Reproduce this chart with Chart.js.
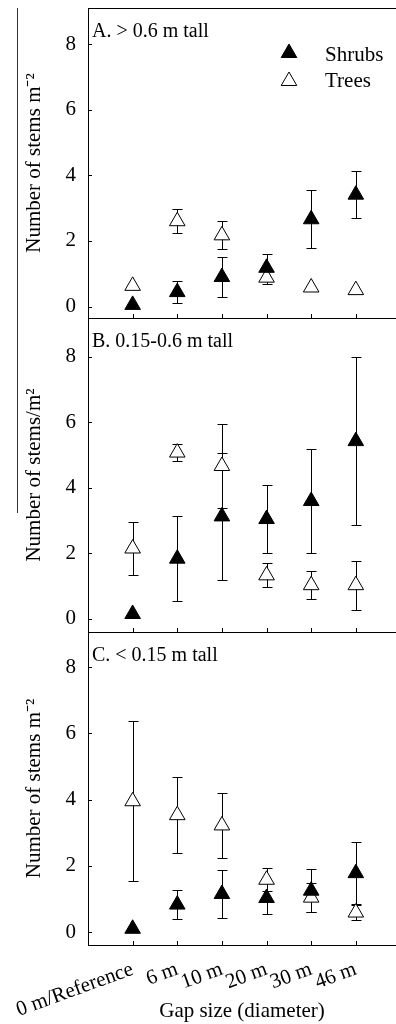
<!DOCTYPE html>
<html>
<head>
<meta charset="utf-8">
<script src="https://cdn.jsdelivr.net/npm/chart.js@4.4.1/dist/chart.umd.min.js"></script>
<style>
    body { margin: 0; background: #fff; }
    #wrap { position: relative; width: 396px; height: 1024px; overflow: hidden; }
    .panel { position: absolute; left: 0; width: 396px; }
    #edgeLine { position: absolute; left: 17px; top: 8px; width: 1px; height: 505px; background: #333; }
</style>
</head>
<body>
<div id="wrap">
    <div id="edgeLine"></div>
    <div class="panel" style="top:0px;height:330px"><canvas id="chartA"></canvas></div>
    <div class="panel" style="top:310px;height:330px"><canvas id="chartB"></canvas></div>
    <div class="panel" style="top:624px;height:400px"><canvas id="chartC"></canvas></div>
</div>
<script>
const categories = ['0 m/Reference', '6 m', '10 m', '20 m', '30 m', '46 m'];
const yTicks = [0, 2, 4, 6, 8];

// A. > 0.6 m tall
const shrubsA    = [0.05, 0.44, 0.90, 1.18, 2.66, 3.41];
const shrubsErrA = [0, 0.34, 0.60, 0.41, 0.88, 0.71];
const treesA     = [0.63, 2.60, 2.17, 0.88, 0.58, 0.50];
const treesErrA  = [0, 0.36, 0.43, 0.20, 0, 0];

// B. 0.15-0.6 m tall
const shrubsB    = [0.15, 1.84, 3.13, 3.05, 3.60, 5.43];
const shrubsErrB = [0, 1.30, 1.95, 1.04, 1.60, 2.57];
const treesB     = [2.15, 5.08, 4.67, 1.33, 1.03, 1.03];
const treesErrB  = [0.80, 0.25, 1.28, 0.37, 0.42, 0.75];

// C. < 0.15 m tall
const shrubsC    = [0.10, 0.83, 1.15, 1.03, 1.25, 1.78];
const shrubsErrC = [0, 0.43, 0.72, 0.48, 0.65, 0.94];
const treesC     = [3.95, 3.53, 3.22, 1.58, 1.04, 0.59];
const treesErrC  = [2.41, 1.14, 0.98, 0.34, 0.44, 0.24];

const serif = "'Liberation Serif', 'Times New Roman', serif";
Chart.defaults.font.family = serif;
Chart.defaults.font.size = 21;
Chart.defaults.color = '#000';

// vertical bars with caps, behind the markers
const errorBars = {
    id: 'errorBars',
    beforeDatasetsDraw(chart) {
        const ctx = chart.ctx;
        const xs = chart.scales.x;
        const ys = chart.scales.y;
        ctx.save();
        ctx.strokeStyle = '#000';
        ctx.lineWidth = 1;
        chart.data.datasets.forEach(ds => {
            ds.data.forEach((p, i) => {
                const e = ds.errors[i];
                if (!e) return;
                const px = Math.round(xs.getPixelForValue(p.x)) + 0.5;
                const top = Math.round(ys.getPixelForValue(p.y + e)) + 0.5;
                const bot = Math.round(ys.getPixelForValue(p.y - e)) + 0.5;
                ctx.beginPath();
                ctx.moveTo(px, top); ctx.lineTo(px, bot);
                ctx.moveTo(px - 5, top); ctx.lineTo(px + 5, top);
                ctx.moveTo(px - 5, bot); ctx.lineTo(px + 5, bot);
                ctx.stroke();
            });
        });
        ctx.restore();
    }
};

// inside tick marks, panel label, legend
const decor = {
    id: 'decor',
    afterDraw(chart, args, opts) {
        const {ctx, chartArea: area, scales} = chart;
        ctx.save();
        ctx.strokeStyle = '#000';
        ctx.lineWidth = 1;
        ctx.beginPath();
        scales.y.ticks.forEach(t => {
            const py = Math.round(scales.y.getPixelForValue(t.value)) + 0.5;
            ctx.moveTo(area.left, py); ctx.lineTo(area.left + 4, py);
        });
        scales.x.ticks.forEach(t => {
            const px = Math.round(scales.x.getPixelForValue(t.value)) + 0.5;
            ctx.moveTo(px, area.bottom); ctx.lineTo(px, area.bottom - 4);
        });
        if (opts.topLine) {
            ctx.moveTo(area.left, area.top + 0.5); ctx.lineTo(area.right, area.top + 0.5);
        }
        ctx.stroke();

        ctx.fillStyle = '#000';
        ctx.font = '20px ' + serif;
        ctx.textBaseline = 'alphabetic';
        ctx.fillText(opts.label, area.left + 4, area.top + 29);

        if (opts.legend) {
            ctx.font = '21px ' + serif;
            const rows = [[chart.data.datasets[0], 53, 61], [chart.data.datasets[1], 81, 87]];
            rows.forEach(([ds, my, ty]) => {
                ctx.fillStyle = ds.backgroundColor;
                ctx.strokeStyle = ds.borderColor;
                ctx.lineWidth = ds.borderWidth;
                Chart.helpers.drawPoint(ctx, {pointStyle: 'triangle', radius: ds.pointRadius, rotation: 0, borderWidth: ds.borderWidth}, 289, my);
                ctx.fillStyle = '#000';
                ctx.fillText(ds.label, 325, ty);
            });
        }
        ctx.restore();
    }
};

function toPoints(values) {
    return values.map((v, i) => ({x: i, y: v}));
}

function makePanel(id, p) {
    return new Chart(document.getElementById(id), {
        type: 'scatter',
        data: {
            datasets: [{
                label: 'Shrubs',
                data: toPoints(p.shrubs),
                errors: p.shrubErr,
                pointStyle: 'triangle',
                pointRadius: 9,
                backgroundColor: '#000',
                borderColor: '#000',
                borderWidth: 1
            }, {
                label: 'Trees',
                data: toPoints(p.trees),
                errors: p.treeErr,
                pointStyle: 'triangle',
                pointRadius: 9,
                backgroundColor: '#fff',
                borderColor: '#000',
                borderWidth: 1
            }]
        },
        options: {
            responsive: true,
            maintainAspectRatio: false,
            animation: false,
            layout: { autoPadding: false, padding: {top: 8, left: 0, right: 0, bottom: 0} },
            plugins: {
                legend: { display: false },
                tooltip: { enabled: false },
                decor: { label: p.label, legend: p.legend, topLine: p.topLine }
            },
            scales: {
                x: {
                    type: 'linear',
                    min: -1,
                    max: 5.9,
                    grid: { display: false, drawTicks: false },
                    border: { color: '#000', width: 1 },
                    afterBuildTicks: s => { s.ticks = categories.map((c, i) => ({value: i})); },
                    afterFit: s => { s.height = p.xHeight; s.paddingLeft = 0; s.paddingRight = 0; },
                    ticks: {
                        display: p.xLabels,
                        autoSkip: false,
                        minRotation: 20,
                        maxRotation: 20,
                        padding: 12,
                        callback: v => categories[v]
                    },
                    title: {
                        display: p.xLabels,
                        text: 'Gap size (diameter)',
                        padding: {top: 0, bottom: 0}
                    }
                },
                y: {
                    min: p.yMin,
                    max: p.yMax,
                    grid: { display: false, drawTicks: false },
                    border: { color: '#000', width: 1 },
                    afterBuildTicks: s => { s.ticks = yTicks.map(v => ({value: v})); },
                    afterFit: s => { s.width = 88; s.paddingTop = 0; s.paddingBottom = 0; },
                    ticks: { padding: 12 },
                    title: {
                        display: true,
                        text: p.yTitle,
                        padding: {top: 22, bottom: 0}
                    }
                }
            }
        },
        plugins: [errorBars, decor]
    });
}

makePanel('chartA', {
    shrubs: shrubsA, shrubErr: shrubsErrA, trees: treesA, treeErr: treesErrA,
    yMin: -0.35, yMax: 9.1, xHeight: 12, xLabels: false,
    label: 'A. > 0.6 m tall', legend: true, topLine: true,
    yTitle: 'Number of stems m\u207B\u00B2'
});

makePanel('chartB', {
    shrubs: shrubsB, shrubErr: shrubsErrB, trees: treesB, treeErr: treesErrB,
    yMin: -0.4, yMax: 9.19, xHeight: 8, xLabels: false,
    label: 'B. 0.15-0.6 m tall', legend: false, topLine: false,
    yTitle: 'Number of stems/m\u00B2'
});

makePanel('chartC', {
    shrubs: shrubsC, shrubErr: shrubsErrC, trees: treesC, treeErr: treesErrC,
    yMin: -0.39, yMax: 9.06, xHeight: 79, xLabels: true,
    label: 'C. < 0.15 m tall', legend: false, topLine: false,
    yTitle: 'Number of stems m\u207B\u00B2'
});
</script>
</body>
</html>
